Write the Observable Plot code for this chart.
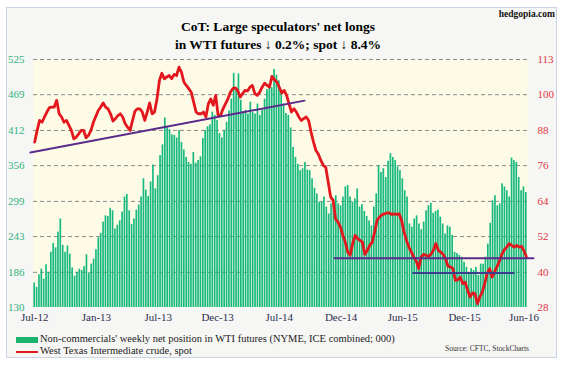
<!DOCTYPE html>
<html><head><meta charset="utf-8">
<script src="https://cdn.jsdelivr.net/npm/d3@7"></script>
<script src="https://cdn.jsdelivr.net/npm/@observablehq/plot@0.6"></script>
<style>
html,body{margin:0;padding:0;background:#fff;}
#wrap{position:relative;width:563px;height:367px;overflow:hidden;font-family:"Liberation Serif","Times New Roman",serif;}
#box{position:absolute;left:6px;top:7px;width:551px;height:351px;border:1px solid #c9d5e6;background:#f6f6f4;box-sizing:border-box;}
#title{position:absolute;left:0;width:556px;top:18px;text-align:center;font-weight:bold;font-size:13.5px;line-height:18px;color:#000;}
#brand{position:absolute;right:8px;top:9px;font-weight:bold;font-size:9.5px;color:#111;}
#chart{position:absolute;left:0;top:52px;}
.lg{position:absolute;left:16px;font-size:10.5px;color:#222;white-space:nowrap;line-height:12px;}
.sw{display:inline-block;width:22px;vertical-align:middle;margin-right:2px;}
#src{position:absolute;left:445px;top:344px;font-size:7.5px;color:#333;white-space:nowrap;}
</style></head>
<body>
<div id="wrap">
  <div id="box"></div>
  <div id="title">CoT: Large speculators' net longs<br>in WTI futures ↓ 0.2%; spot ↓ 8.4%</div>
  <div id="brand">hedgopia.com</div>
  <div id="chart"></div>
  <div class="lg" style="top:333px"><span class="sw" style="height:6px;background:#1bb36b"></span>Non-commercials' weekly net position in WTI futures (NYME, ICE combined; 000)</div>
  <div class="lg" style="top:345px"><span class="sw" style="height:2px;background:#e3171e"></span>West Texas Intermediate crude, spot</div>
  <div id="src">Source: CFTC, StockCharts</div>
</div>
<script>
// Left axis (net longs, 000 contracts) and right axis (WTI spot, $) tick labels
const leftTicks = [130,186,243,299,356,412,469,525];
const rightTicks = [28,40,52,64,76,88,100,113];
// Category (week) labels and the week index where each appears
const xTickLabels = ["Jul-12","Jan-13","Jul-13","Dec-13","Jul-14","Dec-14","Jun-15","Dec-15","Jun-16"];
const xTickWeeks = [0,26,52,77,103,129,155,181,206];

// Weekly non-commercial net longs (000), Jul-2012 .. Jun-2016
const netLongs = [
169,162,182,191,175,198,186,218,232,225,
250,271,229,218,228,215,193,180,186,191,
189,195,214,185,199,207,222,241,248,266,
276,275,288,284,255,261,268,282,306,310,
284,262,271,285,293,306,335,317,307,330,
357,319,340,372,389,432,417,413,405,404,
400,412,393,381,369,361,358,377,360,364,
370,399,412,418,421,441,436,428,407,400,
412,425,443,462,503,477,502,460,442,444,
438,457,441,438,454,436,444,462,477,486,
480,509,500,
491,476,454,439,436,416,385,369,358,348,
351,361,349,348,335,320,311,298,298,306,
290,279,295,303,308,295,292,306,322,324,
306,298,303,319,290,294,283,275,268,260,
290,311,356,345,351,337,363,375,369,364,
354,348,335,316,306,263,258,271,276,263,
254,266,284,292,296,280,283,285,274,263,
247,260,258,245,218,216,213,210,202,194,
185,192,189,194,181,199,199,210,231,264,
300,308,292,295,327,322,316,306,368,364,
361,337,316,322,313
];

// WTI spot ($/bbl), same period
const wtiSpot = [
84.7,88.7,92.1,91.5,93.3,95.0,96.5,96.7,96.7,99.0,
94.4,93.3,91.5,92.1,90.4,88.7,85.8,86.4,87.5,88.7,
88.7,86.2,87.0,88.7,91.5,93.5,95.5,96.7,98.1,96.7,
96.1,94.4,91.9,92.7,93.8,94.4,93.3,91.0,89.8,88.7,
92.1,95.3,96.1,96.1,95.0,92.1,95.0,98.1,94.4,95.0,
99.5,105.8,108.3,106.4,107.0,107.5,106.4,107.9,107.5,110.4,
108.7,105.3,104.1,103.0,101.8,98.4,95.0,94.4,94.4,95.0,
93.3,97.8,99.5,97.3,100.7,93.8,93.8,96.1,97.8,99.5,
101.8,103.0,103.3,102.4,100.1,101.3,102.4,102.2,103.5,104.1,
101.3,100.7,101.8,103.5,104.9,104.1,103.5,107.2,106.1,105.3,
103.5,101.5,102.4,100.7,97.8,95.0,96.1,95.0,93.3,92.1,
92.7,93.3,92.1,88.1,84.7,81.8,80.5,78.4,76.7,76.1,
71.0,65.9,64.7,58.4,57.3,55.6,52.7,50.4,47.0,45.9,
49.9,52.7,51.6,51.0,50.4,46.2,47.6,49.3,50.4,53.9,
57.9,59.0,59.8,60.1,60.4,60.4,59.9,60.1,59.9,60.1,
57.9,53.9,51.0,48.7,47.0,45.3,43.9,41.3,45.3,46.2,
45.9,45.5,46.2,47.6,49.9,47.6,47.0,46.2,44.7,42.1,
41.9,41.3,37.3,37.5,38.4,36.2,36.7,33.9,31.6,33.0,
32.7,29.3,31.6,33.3,36.2,39.8,41.3,38.4,40.2,41.9,
43.9,46.2,47.8,48.7,49.9,49.3,48.7,49.3,48.7,
49.0,47.5,45.5
];

// Hand-drawn trend lines on the spot price: [week index, price]
const trendRising  = [[-1.8, 81.1], [113.6, 98.9]];
const supportUpper = [[126.2, 44.9], [210.0, 44.9]];
const supportLower = [[159.4, 39.8], [201.7, 39.8]];

const N = netLongs.length;
const toLeft = p => 130 + (p - 28) * (525 - 130) / (113 - 28);
const bars = netLongs.map((v, i) => ({i, v}));
const spot = wtiSpot.map((p, j) => ({t: j * (N - 1) / (wtiSpot.length - 1), p}));
const seg = a => a.map(([t, p]) => ({t, p}));

const chart = Plot.plot({
  width: 563, height: 275,
  marginLeft: 33, marginRight: 36, marginTop: 7, marginBottom: 20,
  style: {background: "transparent", fontFamily: "'Liberation Serif', 'Times New Roman', serif", overflow: "visible"},
  x: {domain: [-0.5, N - 0.5], axis: null},
  y: {domain: [130, 525], axis: null},
  marks: [
    Plot.frame({fill: "#fdfbe6", stroke: "none"}),
    Plot.ruleY(leftTicks.slice(1), {stroke: "#8c8c8c", strokeDasharray: "4,3", strokeWidth: 1}),
    Plot.rect(bars, {x1: d => d.i - 0.5, x2: d => d.i + 0.5, y1: () => 130, y2: "v",
      fill: "#17b87f", insetLeft: 0.35, insetRight: 0.35}),
    Plot.line(spot, {x: "t", y: d => toLeft(d.p), stroke: "#e3171e", strokeWidth: 2.8, strokeLinejoin: "round"}),
    Plot.line(seg(trendRising), {x: "t", y: d => toLeft(d.p), stroke: "#5b2b8c", strokeWidth: 2}),
    Plot.line(seg(supportUpper), {x: "t", y: d => toLeft(d.p), stroke: "#5b2b8c", strokeWidth: 2}),
    Plot.line(seg(supportLower), {x: "t", y: d => toLeft(d.p), stroke: "#3f3f8f", strokeWidth: 2}),
    Plot.text(leftTicks, {y: d => d, text: d => String(d), frameAnchor: "left", textAnchor: "end",
      dx: -9, fill: "#2fb37c", fontSize: 11}),
    Plot.text(rightTicks, {y: (d, i) => leftTicks[i], text: d => String(d), frameAnchor: "right",
      textAnchor: "start", dx: 10, fill: "#e2343f", fontSize: 11}),
    Plot.text(xTickLabels, {x: (d, i) => xTickWeeks[i], text: d => d, frameAnchor: "bottom",
      dy: 13, fill: "#2b3050", fontSize: 11})
  ]
});
document.getElementById("chart").appendChild(chart);
</script>
</body></html>
